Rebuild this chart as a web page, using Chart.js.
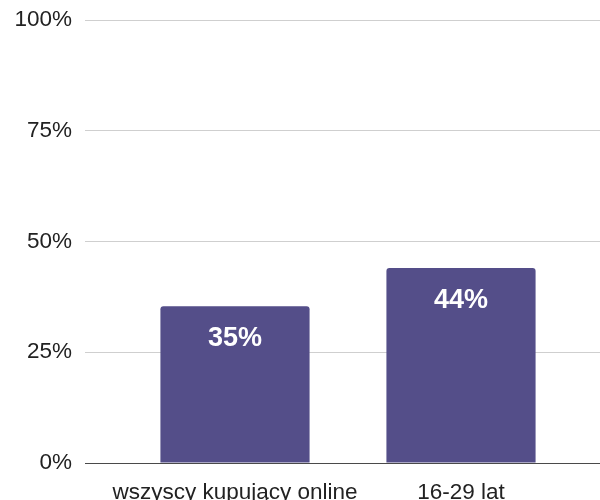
<!DOCTYPE html>
<html>
<head>
<meta charset="utf-8">
<script src="https://cdn.jsdelivr.net/npm/chart.js@4"></script>
<style>
  html, body { margin: 0; padding: 0; background: #fff; overflow: hidden; }
  #wrap { width: 600px; height: 520px; }
</style>
</head>
<body>
<div id="wrap"><canvas id="chart" width="600" height="520"></canvas></div>
<script>
// data
const categories = ['wszyscy kupujący online', '16-29 lat'];
const shares = [35.4, 44];
const yTicks = [0, 25, 50, 75, 100];

const barColor = '#544e89';
const gridColor = ctx => (ctx.tick && ctx.tick.value === 0 ? '#4a4a4a' : '#cfcfcf');

// white value labels inside the bars
const barLabels = {
    id: 'barLabels',
    afterDatasetsDraw(chart) {
        const c = chart.ctx;
        const meta = chart.getDatasetMeta(0);
        c.save();
        c.fillStyle = '#ffffff';
        c.font = 'bold 27px "Liberation Sans", Arial, sans-serif';
        c.textAlign = 'center';
        c.textBaseline = 'middle';
        meta.data.forEach((bar, i) => {
            c.fillText(Math.round(shares[i]) + '%', bar.x, bar.y + 32);
        });
        c.restore();
    }
};

new Chart(document.getElementById('chart'), {
    type: 'bar',
    data: {
        labels: categories,
        datasets: [{
            data: shares,
            backgroundColor: barColor,
            borderRadius: { topLeft: 3, topRight: 3 },
            borderSkipped: 'start',
            categoryPercentage: 1,
            barPercentage: 0.66
        }]
    },
    options: {
        responsive: false,
        animation: false,
        layout: { padding: 0 },
        plugins: { legend: { display: false }, tooltip: { enabled: false } },
        scales: {
            x: {
                grid: { display: false },
                border: { display: false },
                ticks: {
                    color: '#222',
                    padding: 8,
                    maxRotation: 0,
                    autoSkip: false,
                    font: { family: '"Liberation Sans", Arial, sans-serif', size: 22.5 }
                },
                afterFit: s => { s.height = 57; }
            },
            y: {
                min: 0,
                max: 100,
                afterBuildTicks: s => { s.ticks = yTicks.map(v => ({ value: v })); },
                border: { display: false },
                grid: { color: gridColor, tickLength: 37, lineWidth: 1 },
                ticks: {
                    color: '#222',
                    padding: 13,
                    callback: v => v + '%',
                    font: { family: '"Liberation Sans", Arial, sans-serif', size: 22.5 }
                },
                afterFit: s => { s.width = 122; s.paddingTop = 20; s.paddingBottom = 0; }
            },
            y2: {
                type: 'linear',
                position: 'right',
                min: 0,
                max: 100,
                afterBuildTicks: s => { s.ticks = yTicks.map(v => ({ value: v })); },
                border: { display: false },
                grid: { color: gridColor, drawOnChartArea: false, tickLength: 26 },
                ticks: { display: false },
                afterFit: s => { s.width = 26; s.paddingTop = 0; s.paddingBottom = 0; }
            }
        }
    },
    plugins: [barLabels]
});
</script>
</body>
</html>
